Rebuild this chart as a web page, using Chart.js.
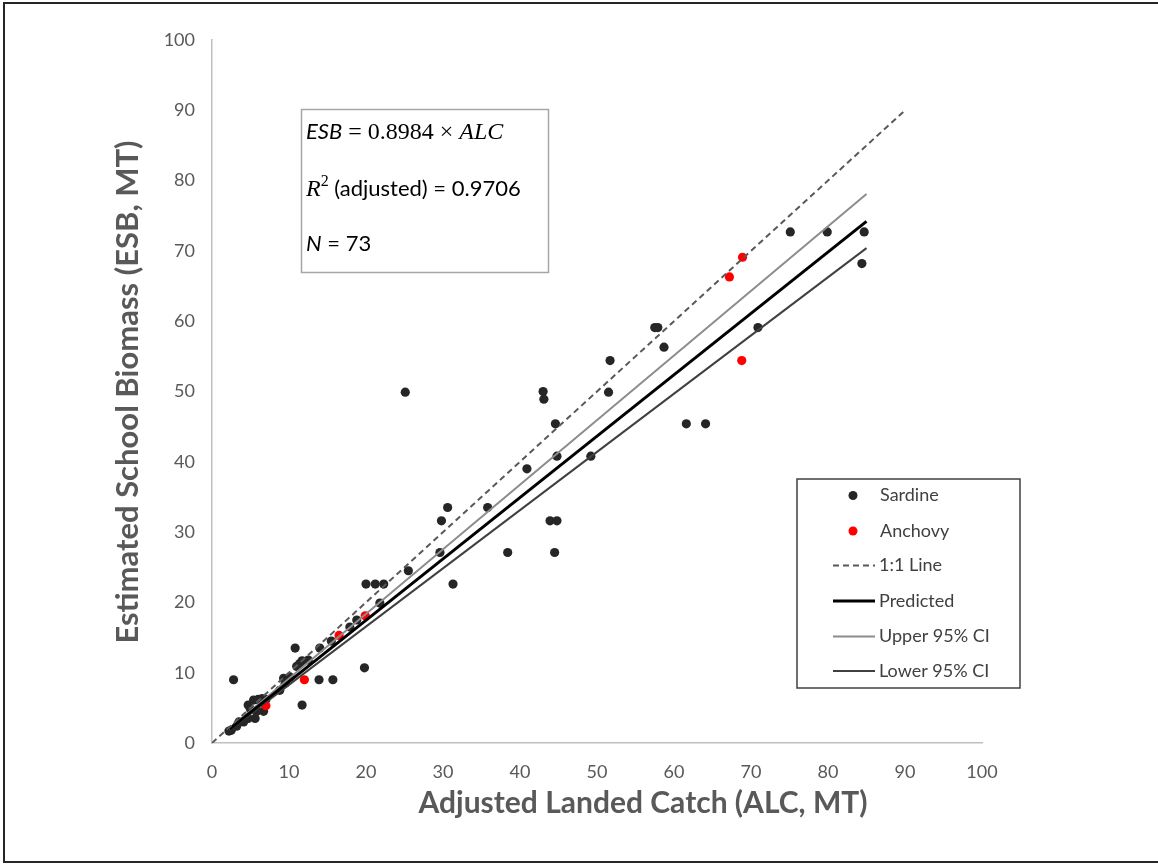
<!DOCTYPE html>
<html>
<head>
<meta charset="utf-8">
<script src="https://cdn.jsdelivr.net/npm/chart.js@4.4.0/dist/chart.umd.min.js"></script>
<style>
  body { margin: 0; background: #fff; }
  canvas { display: block; }
</style>
</head>
<body>
<canvas id="myChart" width="1158" height="865"></canvas>
<script>
// values
const sardineX = [75.1, 79.9, 84.7, 84.4, 57.5, 57.9, 58.7, 70.9, 61.6, 64.1,
  51.7, 51.5, 43.0, 43.1, 25.1, 44.6, 44.8, 49.2, 40.9, 30.6,
  29.8, 35.8, 43.9, 44.8, 29.6, 38.4, 44.5, 25.5, 31.3, 20.0,
  21.2, 22.3, 21.8, 18.8, 17.9, 19.8, 14.0, 10.8, 15.5, 13.9,
  15.7, 11.7, 11.0, 9.3, 11.7, 2.8, 5.4, 6.0, 6.5, 4.7,
  6.7, 5.8, 5.6, 4.7, 4.1, 3.2, 2.5, 2.2, 8.8, 9.5,
  10.1, 11.4, 12.5, 7.0, 5.0, 3.5];
const sardineY = [72.7, 72.7, 72.7, 68.2, 59.1, 59.1, 56.3, 59.1, 45.4, 45.4,
  54.4, 49.9, 50.0, 48.9, 49.9, 45.4, 40.8, 40.8, 39.0, 33.5,
  31.6, 33.5, 31.6, 31.6, 27.1, 27.1, 27.1, 24.5, 22.6, 22.6,
  22.6, 22.6, 19.9, 17.5, 16.5, 10.7, 13.5, 13.5, 14.5, 9.0,
  9.0, 11.7, 10.9, 9.2, 5.4, 9.0, 6.1, 6.2, 6.3, 5.4,
  4.5, 4.5, 3.5, 3.5, 3.0, 2.4, 1.8, 1.7, 7.5, 8.5,
  9.4, 11.3, 11.8, 6.2, 4.8, 3.0];
const anchovyX = [7.0, 12.0, 16.5, 19.9, 67.2, 68.9, 68.8];
const anchovyY = [5.3, 9.0, 15.3, 18.1, 66.3, 69.1, 54.4];

const oneToOneX = [0, 90];
const oneToOneY = [0, 90];
const predictedX = [2.3, 85];
const predictedY = [2.0, 74.2];
const upperX = [2.3, 85];
const upperY = [2.1, 78.1];
const lowerX = [2.3, 85];
const lowerY = [1.9, 70.4];

const axisTicks = [0, 10, 20, 30, 40, 50, 60, 70, 80, 90, 100];
const xTitle = "Adjusted Landed Catch (ALC, MT)";
const yTitle = "Estimated School Biomass (ESB, MT)";

const pts = (xs, ys) => xs.map((x, i) => ({ x: x, y: ys[i] }));
const SANS = "Lato, 'Open Sans', sans-serif";
const SERIF = "'Liberation Serif', serif";

function drawRuns(ctx, x, y, runs) {
  runs.forEach((r) => {
    ctx.font = r.font;
    ctx.fillText(r.text, x, y + (r.dy || 0));
    x += ctx.measureText(r.text).width;
  });
}

const extras = {
  id: "extras",
  afterDraw(chart) {
    const ctx = chart.ctx;
    ctx.save();
    // outer frame
    ctx.strokeStyle = "#262626";
    ctx.lineWidth = 2;
    ctx.strokeRect(4, 3, 1170, 859);

    // axis titles
    ctx.fillStyle = "#595959";
    ctx.textAlign = "center";
    ctx.textBaseline = "middle";
    ctx.font = "bold 30px " + SANS;
    ctx.fillText(xTitle, 643, 803);
    ctx.font = "bold 31px " + SANS;
    ctx.translate(128, 392);
    ctx.rotate(-Math.PI / 2);
    ctx.fillText(yTitle, 0, 0);
    ctx.setTransform(1, 0, 0, 1, 0, 0);

    // equation box
    ctx.strokeStyle = "#a6a6a6";
    ctx.lineWidth = 1.5;
    ctx.strokeRect(301.5, 109.5, 247, 163);
    ctx.fillStyle = "#000";
    ctx.textAlign = "left";
    ctx.textBaseline = "alphabetic";
    drawRuns(ctx, 306, 139, [
      { text: "ESB", font: "italic 22px " + SANS },
      { text: " = 0.8984 × ", font: "24px " + SERIF },
      { text: "ALC", font: "italic 24px " + SERIF }
    ]);
    drawRuns(ctx, 306, 196, [
      { text: "R", font: "italic 24px " + SERIF },
      { text: "2", font: "16px " + SERIF, dy: -10 },
      { text: " (adjusted) = 0.9706", font: "22px " + SANS }
    ]);
    drawRuns(ctx, 306, 251, [
      { text: "N", font: "italic 22px " + SANS },
      { text: " = 73", font: "22px " + SANS }
    ]);

    // legend
    ctx.strokeStyle = "#404040";
    ctx.lineWidth = 1.5;
    ctx.strokeRect(797, 479, 223, 209);
    const rows = [495.5, 531, 565.5, 601, 636.5, 671];
    chart.data.datasets.forEach((ds, i) => {
      const y = rows[i];
      if (ds.showLine) {
        ctx.beginPath();
        ctx.strokeStyle = ds.borderColor;
        ctx.lineWidth = ds.borderWidth;
        ctx.setLineDash(ds.borderDash || []);
        ctx.moveTo(833, y);
        ctx.lineTo(875, y);
        ctx.stroke();
        ctx.setLineDash([]);
      } else {
        ctx.beginPath();
        ctx.fillStyle = ds.backgroundColor;
        ctx.arc(853, y, 4.5, 0, Math.PI * 2);
        ctx.fill();
      }
      ctx.fillStyle = "#404040";
      ctx.font = "18px " + SANS;
      ctx.textBaseline = "middle";
      ctx.fillText(ds.label, ds.showLine ? 879 : 880, y);
    });
    ctx.restore();
  }
};

const lineSet = (label, xs, ys, color, width, dash) => ({
  label: label,
  data: pts(xs, ys),
  showLine: true,
  borderColor: color,
  borderWidth: width,
  borderDash: dash,
  pointRadius: 0,
  fill: false,
  order: 1
});

const fixTicks = (scale) => {
  scale.ticks = axisTicks.map((v) => ({ value: v }));
};

const ctx = document.getElementById("myChart").getContext("2d");
const myChart = new Chart(ctx, {
  type: "scatter",
  data: {
    datasets: [
      {
        label: "Sardine",
        data: pts(sardineX, sardineY),
        backgroundColor: "#262626",
        borderWidth: 0,
        pointRadius: 4.6,
        order: 5
      },
      {
        label: "Anchovy",
        data: pts(anchovyX, anchovyY),
        backgroundColor: "#ff0000",
        borderWidth: 0,
        pointRadius: 4.6,
        order: 4
      },
      lineSet("1:1 Line", oneToOneX, oneToOneY, "#595959", 2, [6, 4]),
      lineSet("Predicted", predictedX, predictedY, "#000000", 3, []),
      lineSet("Upper 95% CI", upperX, upperY, "#8c8c8c", 2, []),
      lineSet("Lower 95% CI", lowerX, lowerY, "#404040", 2, [])
    ]
  },
  options: {
    responsive: false,
    animation: false,
    events: [],
    layout: { padding: { left: 0, top: 40, right: 176, bottom: 0 } },
    plugins: {
      legend: { display: false },
      tooltip: { enabled: false }
    },
    scales: {
      x: {
        type: "linear",
        min: 0,
        max: 100,
        afterBuildTicks: fixTicks,
        afterFit: (s) => { s.height = 122; },
        grid: { display: false, drawTicks: false },
        border: { display: true, color: "#bfbfbf", width: 1.5 },
        ticks: {
          autoSkip: false,
          maxRotation: 0,
          padding: 18,
          color: "#595959",
          font: { family: SANS, size: 18 }
        }
      },
      y: {
        type: "linear",
        min: 0,
        max: 100,
        afterBuildTicks: fixTicks,
        afterFit: (s) => { s.width = 212; },
        grid: { display: false, drawTicks: false },
        border: { display: true, color: "#bfbfbf", width: 1.5 },
        ticks: {
          autoSkip: false,
          padding: 17,
          color: "#595959",
          font: { family: SANS, size: 18 }
        }
      }
    }
  },
  plugins: [extras]
});
</script>
</body>
</html>
